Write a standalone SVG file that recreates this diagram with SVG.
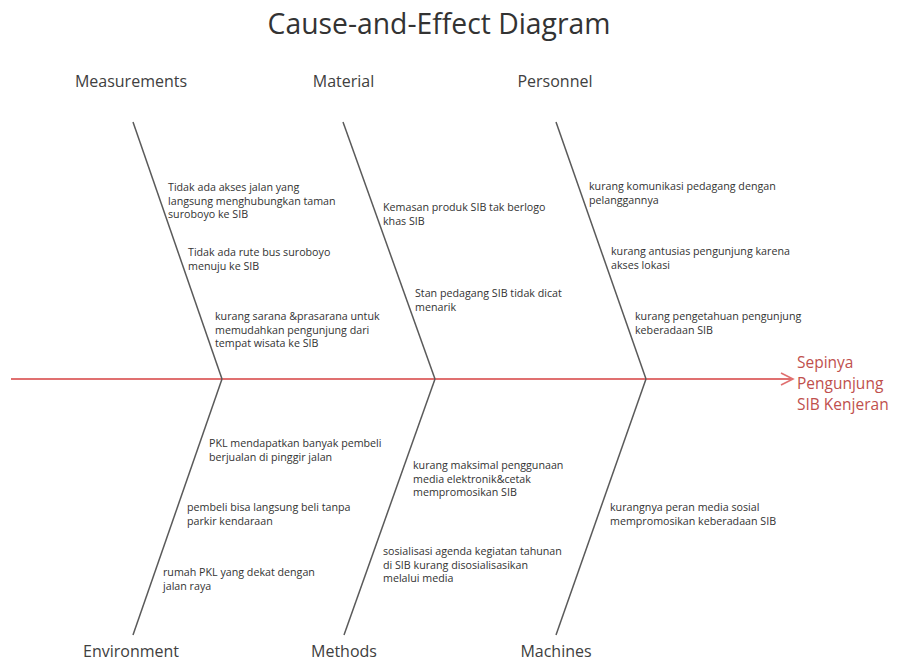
<svg xmlns="http://www.w3.org/2000/svg" width="897" height="662" viewBox="0 0 897 662">
<defs>
<style>
.title{font-family:"Open Sans","Noto Sans",sans-serif;font-size:28.3px;fill:#333}
.cat{font-family:"Open Sans","Noto Sans",sans-serif;font-size:16px;fill:#404040;text-anchor:middle}
.c{font-family:"Open Sans","Noto Sans",sans-serif;font-size:10.7px;fill:#333}
.eff{font-family:"Open Sans","Noto Sans",sans-serif;font-size:15.5px;fill:#c0504d}
.bone{stroke:#5a5a5a;stroke-width:1.5;fill:none}
.spine{stroke:#e07070;stroke-width:2;fill:none}
</style>
<marker id="arr" markerWidth="16" markerHeight="16" refX="13" refY="7" orient="auto" markerUnits="userSpaceOnUse">
<path d="M1,1 L13,7 L1,13" fill="none" stroke="#e07070" stroke-width="1.6"/>
</marker>
</defs>
<rect width="897" height="662" fill="#fff"/>
<text class="title" x="439" y="34" text-anchor="middle">Cause-and-Effect Diagram</text>
<g id="connectors">
<line class="spine" x1="11" y1="379" x2="793" y2="379" marker-end="url(#arr)"/>
<line class="bone" x1="133" y1="122" x2="222" y2="379"/>
<line class="bone" x1="343" y1="122" x2="435" y2="379"/>
<line class="bone" x1="556" y1="122" x2="646" y2="379"/>
<line class="bone" x1="222" y1="379" x2="133" y2="635"/>
<line class="bone" x1="435" y1="379" x2="344" y2="635"/>
<line class="bone" x1="646" y1="379" x2="556" y2="635"/>
</g>
<g id="effect">
<text class="eff" x="797" y="368">Sepinya</text>
<text class="eff" x="797" y="389">Pengunjung</text>
<text class="eff" x="797" y="410">SIB Kenjeran</text>
</g>
<g id="measurements">
<text class="cat" x="131" y="87">Measurements</text>
<text class="c" x="168" y="191">Tidak ada akses jalan yang</text>
<text class="c" x="168" y="204.5">langsung menghubungkan taman</text>
<text class="c" x="168" y="218">suroboyo ke SIB</text>
<text class="c" x="188" y="256">Tidak ada rute bus suroboyo</text>
<text class="c" x="188" y="269.5">menuju ke SIB</text>
<text class="c" x="215" y="320">kurang sarana &amp;prasarana untuk</text>
<text class="c" x="215" y="333.5">memudahkan pengunjung dari</text>
<text class="c" x="215" y="347">tempat wisata ke SIB</text>
</g>
<g id="material">
<text class="cat" x="343.5" y="87">Material</text>
<text class="c" x="383" y="211">Kemasan produk SIB tak berlogo</text>
<text class="c" x="383" y="224.5">khas SIB</text>
<text class="c" x="415" y="297">Stan pedagang SIB tidak dicat</text>
<text class="c" x="415" y="310.5">menarik</text>
</g>
<g id="personnel">
<text class="cat" x="555" y="87">Personnel</text>
<text class="c" x="589" y="190">kurang komunikasi pedagang dengan</text>
<text class="c" x="589" y="203.5">pelanggannya</text>
<text class="c" x="611" y="255">kurang antusias pengunjung karena</text>
<text class="c" x="611" y="268.5">akses lokasi</text>
<text class="c" x="635" y="320">kurang pengetahuan pengunjung</text>
<text class="c" x="635" y="333.5">keberadaan SIB</text>
</g>
<g id="environment">
<text class="cat" x="131" y="657">Environment</text>
<text class="c" x="209" y="447">PKL mendapatkan banyak pembeli</text>
<text class="c" x="209" y="460.5">berjualan di pinggir jalan</text>
<text class="c" x="187" y="511">pembeli bisa langsung beli tanpa</text>
<text class="c" x="187" y="524.5">parkir kendaraan</text>
<text class="c" x="163" y="576">rumah PKL yang dekat dengan</text>
<text class="c" x="163" y="589.5">jalan raya</text>
</g>
<g id="methods">
<text class="cat" x="344" y="657">Methods</text>
<text class="c" x="413" y="469">kurang maksimal penggunaan</text>
<text class="c" x="413" y="482.5">media elektronik&amp;cetak</text>
<text class="c" x="413" y="496">mempromosikan SIB</text>
<text class="c" x="383" y="555">sosialisasi agenda kegiatan tahunan</text>
<text class="c" x="383" y="568.5">di SIB kurang disosialisasikan</text>
<text class="c" x="383" y="582">melalui media</text>
</g>
<g id="machines">
<text class="cat" x="556" y="657">Machines</text>
<text class="c" x="610" y="511">kurangnya peran media sosial</text>
<text class="c" x="610" y="525">mempromosikan keberadaan SIB</text>
</g>
</svg>
